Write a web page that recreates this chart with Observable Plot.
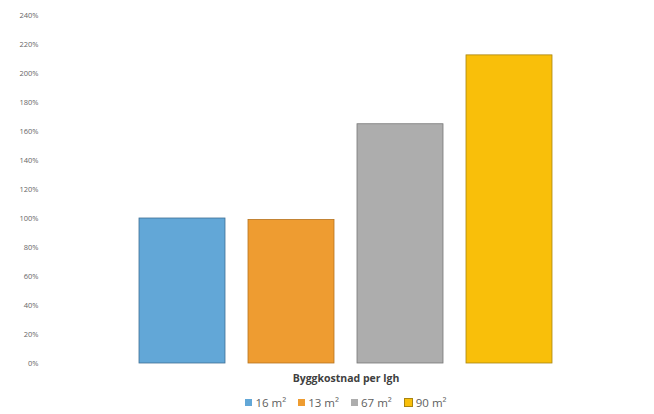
<!DOCTYPE html>
<html>
<head>
<meta charset="utf-8">
<script src="https://cdn.jsdelivr.net/npm/d3@7"></script>
<script src="https://cdn.jsdelivr.net/npm/@observablehq/plot@0.6"></script>
<style>
  html, body { margin: 0; padding: 0; background: #fff; }
  #wrap { width: 654px; height: 414px; position: relative; font-family: "Open Sans", "Liberation Sans", sans-serif; }
  #title { position: absolute; left: 0; width: 692px; top: 371px; text-align: center; font-size: 10.5px; font-weight: bold; color: #404040; }
  #legend { position: absolute; left: 0; width: 692px; top: 395px; display: flex; justify-content: center; gap: 12px; font-size: 11.5px; color: #606060; }
  .item { display: flex; align-items: center; gap: 3px; }
  .sw { width: 7px; height: 7px; display: inline-block; }
</style>
</head>
<body>
<div id="wrap"><div id="chart"></div><div id="title"></div><div id="legend"></div></div>
<script>
const series = ["16 m²", "13 m²", "67 m²", "90 m²"];
const values = [1.00, 0.99, 1.65, 2.125];
const colors = ["#62a7d7", "#ee9c31", "#adadad", "#f9bf0a"];
const strokes = ["#3f6f95", "#b67420", "#777777", "#a98510"];
const yTicks = [0, 0.2, 0.4, 0.6, 0.8, 1.0, 1.2, 1.4, 1.6, 1.8, 2.0, 2.2, 2.4];
const axisTitle = "Byggkostnad per lgh";

const data = series.map((s, i) => ({series: s, value: values[i], fill: colors[i], stroke: strokes[i]}));

const chart = Plot.plot({
  width: 654,
  height: 370,
  marginTop: 15,
  marginBottom: 7,
  marginLeft: 45,
  marginRight: 7,
  style: {fontFamily: "'Open Sans', 'Liberation Sans', sans-serif", background: "#fff"},
  x: {domain: series, paddingInner: 0.21, paddingOuter: 0.845, axis: null},
  y: {domain: [0, 2.4], ticks: yTicks, tickFormat: d => Math.round(d * 100) + "%", label: null},
  marks: [
    Plot.axisY({ticks: yTicks, tickFormat: d => Math.round(d * 100) + "%", tickSize: 0, tickPadding: 7, fontSize: 7.5, color: "#666", label: null}),
    Plot.barY(data, {x: "series", y: "value", fill: d => d.fill, stroke: d => d.stroke, strokeWidth: 0.8})
  ]
});
document.getElementById("chart").appendChild(chart);
document.getElementById("title").textContent = axisTitle;
const legend = document.getElementById("legend");
series.forEach((s, i) => {
  const it = document.createElement("span");
  it.className = "item";
  const sw = document.createElement("span");
  sw.className = "sw";
  sw.style.background = colors[i];
  sw.style.border = i === 3 ? "1px solid #a98510" : "none";
  const t = document.createElement("span");
  t.textContent = s;
  it.appendChild(sw); it.appendChild(t);
  legend.appendChild(it);
});
</script>
</body>
</html>
